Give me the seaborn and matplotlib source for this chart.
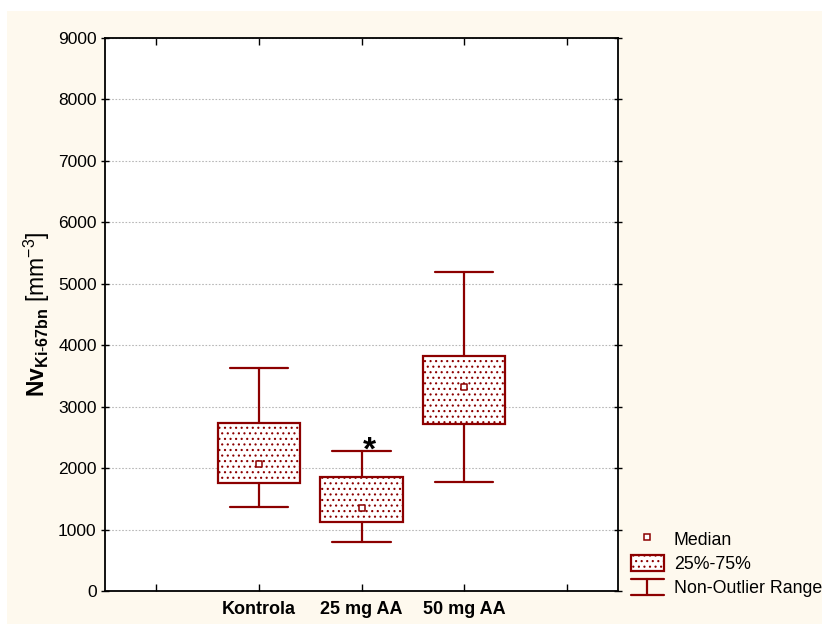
import matplotlib
matplotlib.use("Agg")
import matplotlib.pyplot as plt
import seaborn as sns
import numpy as np
from matplotlib.legend_handler import HandlerBase
from matplotlib.lines import Line2D
from matplotlib.patches import Rectangle, Patch

# ---- data ----
categories = ["Kontrola", "25 mg AA", "50 mg AA"]
medians = [2075, 1345, 3315]
q1 = [1763, 1123, 2713]
q3 = [2729, 1860, 3825]
whisker_low = [1372, 802, 1779]
whisker_high = [3624, 2279, 5195]
yticks = [0, 1000, 2000, 3000, 4000, 5000, 6000, 7000, 8000, 9000]
legend_labels = ["Median", "25%-75%", "Non-Outlier Range"]

DARK = "#8c0000"
CREAM = "#fef9ee"

sns.set_style("white")
plt.rcParams["font.family"] = ["Liberation Sans", "DejaVu Sans"]
plt.rcParams["text.color"] = "black"
plt.rcParams["axes.labelcolor"] = "black"
plt.rcParams["xtick.color"] = "black"
plt.rcParams["ytick.color"] = "black"
plt.rcParams["mathtext.fontset"] = "custom"
plt.rcParams["mathtext.rm"] = "Liberation Sans"
plt.rcParams["mathtext.bf"] = "Liberation Sans:bold"
plt.rcParams["hatch.color"] = DARK
plt.rcParams["hatch.linewidth"] = 0.8

fig = plt.figure(figsize=(8.22, 6.24), dpi=100, facecolor="white")
fig.patches.append(Rectangle((7 / 822, 0), 1, (624 - 11) / 624, transform=fig.transFigure,
                             facecolor=CREAM, edgecolor="none", zorder=-10))
ax = fig.add_axes([105 / 822, 33 / 624, (618 - 105) / 822, (591 - 38) / 624])
ax.set_facecolor("white")

positions = [2, 3, 4]
stats = []
for i, c in enumerate(categories):
    stats.append(dict(label=c, med=medians[i], q1=q1[i], q3=q3[i],
                      whislo=whisker_low[i], whishi=whisker_high[i], fliers=[]))

bp = ax.bxp(stats, positions=positions, widths=0.8, capwidths=0.57, patch_artist=True,
            showfliers=False, manage_ticks=False,
            boxprops=dict(facecolor="white", edgecolor=DARK, linewidth=1.6, hatch="..."),
            whiskerprops=dict(color=DARK, linewidth=1.6),
            capprops=dict(color=DARK, linewidth=1.6),
            medianprops=dict(linewidth=0))
for b in bp["boxes"]:
    b.set_zorder(3)
for l in bp["whiskers"] + bp["caps"]:
    l.set_zorder(3)

sns.scatterplot(x=positions, y=medians, marker="s", s=18, facecolor="white",
                edgecolor=DARK, linewidth=1.1, ax=ax, zorder=5)

ax.text(3.08, 2270, "*", ha="center", va="center", fontsize=24, fontweight="bold", color="black",
        zorder=6)

ax.set_xlim(0.5, 5.5)
ax.set_ylim(0, 9000)
ax.set_yticks(yticks)
ax.set_yticklabels([str(v) for v in yticks], fontsize=12.5)
ax.set_xticks([1, 2, 3, 4, 5])
ax.set_xticklabels([""] + categories + [""], fontsize=13, fontweight="bold")
ax.tick_params(axis="x", direction="in", top=True, bottom=True, length=5, width=1, pad=7)
ax.tick_params(axis="y", direction="inout", left=True, right=True, length=6, width=1, pad=3)
ax.yaxis.grid(True, linestyle=(0, (1.5, 1.5)), color="#b8b8b8", linewidth=0.8)
ax.set_axisbelow(True)
for s in ax.spines.values():
    s.set_visible(True)
    s.set_color("black")
    s.set_linewidth(1.3)

ax.set_ylabel(r"$\mathbf{Nv}_{\mathbf{Ki\text{-}67bn}}$ [mm$^{-3}$]", fontsize=16.5, labelpad=4)


class WhiskerHandler(HandlerBase):
    def create_artists(self, legend, orig_handle, xdescent, ydescent, width, height, fontsize, trans):
        x0, x1 = -xdescent, -xdescent + width
        y0, y1 = -ydescent, -ydescent + height
        xm = (x0 + x1) / 2
        kw = dict(color=DARK, linewidth=1.6, transform=trans)
        return [Line2D([x0, x1], [y1, y1], **kw), Line2D([xm, xm], [y0, y1], **kw),
                Line2D([x0, x1], [y0, y0], **kw)]


h_med = Line2D([], [], linestyle="none", marker="s", markersize=4.5, markerfacecolor="white",
               markeredgecolor=DARK, markeredgewidth=1.1)
h_box = Patch(facecolor="white", edgecolor=DARK, linewidth=1.6, hatch="...")
h_wh = Line2D([], [])
fig.legend([h_med, h_box, h_wh], legend_labels, handler_map={h_wh: WhiskerHandler()},
           loc="lower left", bbox_to_anchor=(631 / 822, 27 / 624), frameon=False,
           fontsize=12.8, handlelength=1.85, handleheight=1.05, handletextpad=0.55,
           labelspacing=0.33, borderpad=0, borderaxespad=0)

fig.savefig("out.png", dpi=100, facecolor="white")
